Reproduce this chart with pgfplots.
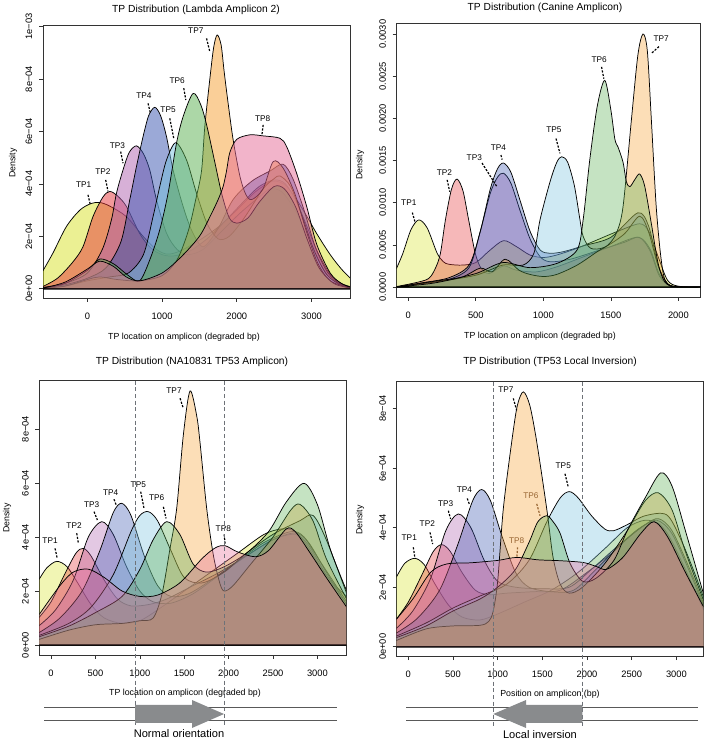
\documentclass[border=0pt]{standalone}
\usepackage{fontspec}
\setmainfont{Liberation Sans}
\usepackage{pgfplots}
\pgfplotsset{compat=1.18}

\definecolor{tp1}{RGB}{215,225,40}
\definecolor{tp2}{RGB}{229,52,55}
\definecolor{tp3}{RGB}{175,98,175}
\definecolor{tp4}{RGB}{55,84,175}
\definecolor{tp5}{RGB}{118,192,221}
\definecolor{tp6}{RGB}{90,175,80}
\definecolor{tp7}{RGB}{245,160,50}
\definecolor{tp8}{RGB}{230,105,150}
\definecolor{arrowgray}{HTML}{898B8D}
\definecolor{dashgray}{HTML}{6E7278}

\pgfplotsset{
  rbox/.style={
    scale only axis, anchor=south west,
    axis line style={black!80, line width=0.6pt},
    tick align=outside, tick pos=left, major tick length=3pt,
    tick style={black!80, line width=0.5pt},
    ticklabel style={font=\fontsize{7}{8}\selectfont},
    xticklabel style={yshift=-4.5pt},
    yticklabel style={rotate=90, anchor=south, yshift=1.5pt},
    clip mode=individual, no markers,
  },
  tp/.style={smooth, fill=#1, draw=black, line width=0.55pt},
}
\tikzset{
  lbl/.style={font=\fontsize{6.2}{7}\selectfont, inner sep=0.5pt},
  ptr/.style={dash pattern=on 1.6pt off 1.1pt, line width=0.9pt},
  vdash/.style={dashgray, dash pattern=on 3pt off 2pt, line width=0.7pt},
}

\begin{document}
\begin{tikzpicture}
\path[use as bounding box] (0,0) rectangle (528.75pt,557.25pt);

% ---------------- Lambda Amplicon 2
\begin{axis}[rbox, at={(32.25pt,333.75pt)}, width=230.25pt, height=204.75pt,
  xmin=-594, xmax=3515, ymin=-0.354, ymax=10.06,
  xtick={0,1000,2000,3000}, xticklabels={0,1000,2000,3000},
  ytick={0,2,4,6,8,10}, yticklabels={0e+00,2e−04,4e−04,6e−04,8e−04,1e−03},
  every axis plot/.append style={fill opacity=0.5}]
\addplot[tp=tp1] coordinates {(-600,0.66) (-461,1.36) (-281,2.37) (-100,3.0) (50,3.25) (165,3.29) (300,3.15) (522,2.75) (745,2.0) (900,1.55) (1013,1.36) (1100,1.32) (1250,1.45) (1500,1.85) (1750,2.35) (2000,3.0) (2250,3.7) (2480,4.1) (2650,3.95) (2800,3.4) (2950,2.7) (3070,2.1) (3250,1.3) (3400,0.75) (3520,0.4)} \closedcycle;
\addplot[tp=tp2] coordinates {(-600,0.08) (-400,0.4) (-200,1.0) (-59,1.6) (75,2.75) (209,3.5) (299,3.71) (400,3.55) (522,3.14) (701,2.1) (850,1.55) (1000,1.3) (1150,1.25) (1350,1.4) (1600,1.9) (1850,2.6) (2100,3.35) (2300,3.9) (2500,4.15) (2650,4.0) (2800,3.3) (2950,2.3) (3080,1.4) (3250,0.55) (3400,0.2) (3520,0.08)} \closedcycle;
\addplot[tp=tp3] coordinates {(-600,0.05) (-300,0.2) (0,0.6) (200,1.5) (322,2.63) (389,3.64) (477,4.53) (560,5.2) (657,5.45) (750,5.15) (835,4.53) (925,3.39) (1059,2.12) (1200,1.5) (1350,1.3) (1550,1.5) (1800,2.2) (2050,2.9) (2300,3.5) (2440,3.8) (2600,3.7) (2780,3.0) (2930,2.1) (3070,1.2) (3250,0.4) (3520,0.05)} \closedcycle;
\addplot[tp=tp4] coordinates {(-600,0.03) (-300,0.15) (0,0.4) (250,0.8) (450,1.8) (567,3.39) (657,4.66) (745,5.8) (820,6.6) (902,6.92) (980,6.6) (1059,5.8) (1147,4.53) (1281,3.14) (1400,2.2) (1550,1.6) (1750,2.3) (1950,3.4) (2200,4.1) (2450,4.5) (2620,4.75) (2750,4.2) (2900,3.0) (3050,1.6) (3220,0.6) (3400,0.15) (3520,0.05)} \closedcycle;
\addplot[tp=tp5] coordinates {(-600,0.02) (-300,0.1) (0,0.3) (300,0.45) (550,0.6) (750,1.3) (879,2.75) (969,3.9) (1059,4.91) (1183,5.57) (1327,4.91) (1461,3.64) (1600,2.5) (1750,1.9) (1900,2.0) (2100,2.7) (2350,3.8) (2500,4.2) (2580,4.3) (2720,3.9) (2870,2.8) (3030,1.5) (3200,0.55) (3400,0.12) (3520,0.03)} \closedcycle;
\addplot[tp=tp7] coordinates {(-600,0.01) (-300,0.1) (0,0.35) (165,0.45) (400,0.35) (700,0.3) (1000,0.5) (1200,1.1) (1350,2.2) (1450,3.4) (1528,4.5) (1572,6.2) (1639,8.0) (1690,9.2) (1737,9.68) (1790,9.3) (1830,8.3) (1884,7.07) (1951,5.68) (2041,4.3) (2120,3.6) (2200,3.4) (2350,3.8) (2487,4.85) (2620,4.6) (2780,3.6) (2930,2.2) (3080,1.0) (3250,0.3) (3520,0.04)} \closedcycle;
\addplot[tp=tp6] coordinates {(-600,0.02) (-300,0.2) (0,0.7) (165,1.13) (350,0.95) (550,0.5) (700,0.3) (835,1.1) (969,2.25) (1080,3.64) (1193,5.55) (1281,6.56) (1415,7.45) (1520,7.0) (1600,6.2) (1700,4.9) (1800,3.6) (1900,2.7) (2000,2.5) (2150,2.7) (2300,3.3) (2500,3.9) (2640,3.8) (2790,3.1) (2940,1.9) (3100,0.8) (3300,0.2) (3520,0.03)} \closedcycle;
\addplot[tp=tp8] coordinates {(-600,0.02) (-300,0.25) (0,0.75) (165,1.05) (350,0.85) (520,0.45) (700,0.3) (1000,0.6) (1250,1.2) (1500,2.0) (1650,2.8) (1750,3.4) (1817,3.9) (1863,4.5) (1907,5.2) (2000,5.7) (2175,5.87) (2353,5.83) (2577,5.74) (2667,5.42) (2800,4.41) (2935,3.14) (3069,1.7) (3250,0.6) (3400,0.2) (3520,0.06)} \closedcycle;
\node[lbl] at (axis cs:-50,3.96) {TP1}; \draw[ptr] (axis cs:8,3.58) -- (axis cs:40,3.2);
\node[lbl] at (axis cs:209,4.45) {TP2}; \draw[ptr] (axis cs:245,4.15) -- (axis cs:276,3.71);
\node[lbl] at (axis cs:402,5.46) {TP3}; \draw[ptr] (axis cs:446,5.23) -- (axis cs:477,4.79);
\node[lbl] at (axis cs:758,7.35) {TP4}; \draw[ptr] (axis cs:812,7.07) -- (axis cs:844,6.69);
\node[lbl] at (axis cs:1080,6.82) {TP5}; \draw[ptr] (axis cs:1103,6.5) -- (axis cs:1156,5.74);
\node[lbl] at (axis cs:1201,7.94) {TP6}; \draw[ptr] (axis cs:1290,7.65) -- (axis cs:1317,7.2);
\node[lbl] at (axis cs:1451,9.83) {TP7}; \draw[ptr] (axis cs:1595,9.55) -- (axis cs:1639,9.04);
\node[lbl] at (axis cs:2345,6.48) {TP8}; \draw[ptr] (axis cs:2353,6.25) -- (axis cs:2336,5.87);
\end{axis}

% ---------------- Canine Amplicon
\begin{axis}[rbox, at={(297.5pt,334.5pt)}, width=228pt, height=205.5pt,
  xmin=-86, xmax=2165, ymin=-1.18, ymax=31.3,
  xtick={0,500,1000,1500,2000}, xticklabels={0,500,1000,1500,2000},
  ytick={0,5,10,15,20,25,30}, yticklabels={0.0000,0.0005,0.0010,0.0015,0.0020,0.0025,0.0030},
  every axis plot/.append style={fill opacity=0.35}]
\addplot[tp=tp1] coordinates {(-90,2.1) (-40,4.0) (20,6.8) (78,7.96) (140,7.0) (214,4.0) (260,3.0) (300,2.7) (400,2.6) (500,2.9) (600,4.3) (705,5.5) (800,4.8) (900,3.8) (1000,3.5) (1100,3.8) (1250,4.6) (1400,5.6) (1550,6.6) (1713,7.5) (1780,6.6) (1850,3.6) (1920,0.8) (2000,0.1) (2170,0)} \closedcycle;
\addplot[tp=tp2] coordinates {(-90,0.05) (50,0.5) (150,1.0) (200,2.2) (238,4.0) (275,7.96) (320,11.6) (361,12.8) (405,11.4) (447,7.96) (496,4.0) (540,2.2) (600,1.6) (705,2.5) (800,2.0) (950,1.8) (1100,2.4) (1300,3.6) (1500,4.8) (1700,5.9) (1790,4.5) (1860,1.5) (1950,0.1) (2170,0)} \closedcycle;
\addplot[tp=tp3] coordinates {(-90,0) (100,0.4) (300,0.9) (450,2.3) (530,6.4) (607,11.1) (660,13.0) (705,13.5) (760,12.3) (829,9.0) (902,5.7) (976,3.6) (1050,3.0) (1200,3.3) (1400,4.3) (1600,5.3) (1710,5.9) (1790,4.3) (1860,1.3) (1950,0.1) (2170,0)} \closedcycle;
\addplot[tp=tp4] coordinates {(-90,0) (100,0.5) (300,1.1) (450,2.6) (533,6.6) (607,11.6) (660,14.0) (705,14.7) (760,13.6) (829,10.2) (902,6.6) (976,4.4) (1050,4.0) (1150,4.2) (1300,4.9) (1500,5.9) (1700,8.8) (1780,7.2) (1850,2.6) (1920,0.4) (2000,0) (2170,0)} \closedcycle;
\addplot[tp=tp5] coordinates {(-90,0) (200,0.6) (500,1.4) (700,2.6) (850,2.6) (930,4.0) (976,8.0) (1050,12.5) (1100,14.8) (1136,15.45) (1180,14.8) (1230,12.0) (1271,8.0) (1295,6.0) (1350,4.6) (1450,4.7) (1600,6.3) (1713,8.4) (1780,6.5) (1850,2.5) (1920,0.4) (2000,0) (2170,0)} \closedcycle;
\addplot[tp=tp7] coordinates {(-90,0) (200,0.7) (400,1.2) (533,2.25) (620,1.8) (718,3.3) (820,2.0) (900,1.5) (1000,1.25) (1100,1.5) (1250,2.6) (1400,4.2) (1480,5.0) (1541,6.4) (1590,9.5) (1652,19.8) (1700,27.5) (1738,30.0) (1770,28.0) (1800,19.8) (1836,9.5) (1873,3.2) (1910,0.5) (2000,0.05) (2170,0)} \closedcycle;
\addplot[tp=tp6] coordinates {(-90,0) (200,0.5) (500,1.6) (700,2.9) (900,2.3) (1100,2.8) (1250,4.4) (1295,8.0) (1344,15.1) (1400,21.5) (1455,24.5) (1500,21.0) (1530,17.5) (1553,16.6) (1590,14.8) (1615,12.5) (1641,11.9) (1680,12.8) (1713,13.4) (1750,12.0) (1800,7.5) (1850,2.8) (1900,0.6) (1980,0) (2170,0)} \closedcycle;
\node[lbl] at (axis cs:4,10.0) {TP1}; \draw[ptr] (axis cs:30,8.83) -- (axis cs:49,7.76);
\node[lbl] at (axis cs:268,13.6) {TP2}; \draw[ptr] (axis cs:288,12.7) -- (axis cs:307,11.3);
\node[lbl] at (axis cs:489,15.3) {TP3}; \draw[ptr] (axis cs:546,14.7) -- (axis cs:656,11.9);
\node[lbl] at (axis cs:668,16.5) {TP4}; \draw[ptr] (axis cs:686,15.65) -- (axis cs:695,15.1);
\node[lbl] at (axis cs:1079,18.6) {TP5}; \draw[ptr] (axis cs:1094,17.6) -- (axis cs:1123,15.85);
\node[lbl] at (axis cs:1413,27.0) {TP6}; \draw[ptr] (axis cs:1431,26.1) -- (axis cs:1448,24.7);
\node[lbl] at (axis cs:1873,29.4) {TP7}; \draw[ptr] (axis cs:1856,28.5) -- (axis cs:1800,27.7);
\end{axis}

% ---------------- NA10831 TP53 Amplicon
\begin{axis}[rbox, at={(29.5pt,66pt)}, width=230pt, height=205.7pt,
  xmin=-132, xmax=3322, ymin=-0.37, ymax=9.79,
  xtick={0,500,1000,1500,2000,2500,3000}, xticklabels={0,500,1000,1500,2000,2500,3000},
  ytick={0,2,4,6,8}, yticklabels={0e+00,2e−04,4e−04,6e−04,8e−04},
  every axis plot/.append style={fill opacity=0.35}]
\addplot[tp=tp1] coordinates {(-140,2.4) (-50,2.85) (64,3.1) (180,2.9) (300,2.3) (450,1.5) (600,1.0) (800,0.8) (1000,0.9) (1200,1.3) (1500,2.0) (1800,2.7) (2100,3.4) (2400,4.1) (2600,4.3) (2750,4.2) (2900,3.6) (3050,2.8) (3200,2.2) (3330,1.8)} \closedcycle;
\addplot[tp=tp2] coordinates {(-140,1.0) (0,1.6) (150,2.6) (280,3.4) (364,3.58) (450,3.3) (600,2.4) (750,1.7) (900,1.45) (1100,1.5) (1300,1.7) (1600,2.2) (1900,2.7) (2200,3.3) (2500,3.9) (2750,4.1) (2900,3.7) (3100,2.6) (3330,1.5)} \closedcycle;
\addplot[tp=tp3] coordinates {(-140,0.7) (50,1.3) (250,2.4) (420,4.0) (571,4.57) (700,4.1) (850,2.9) (1000,2.0) (1150,1.6) (1350,1.55) (1600,1.9) (1900,2.6) (2200,3.3) (2500,3.9) (2750,4.15) (2900,3.8) (3100,2.7) (3330,1.5)} \closedcycle;
\addplot[tp=tp4] coordinates {(-140,0.45) (100,1.0) (350,2.0) (550,3.5) (700,4.9) (796,5.25) (900,4.8) (1050,3.3) (1200,2.2) (1350,1.8) (1550,1.9) (1800,2.4) (2100,3.1) (2400,3.8) (2700,4.2) (2850,4.0) (3050,3.0) (3330,1.6)} \closedcycle;
\addplot[tp=tp5] coordinates {(-140,0.35) (200,0.8) (450,1.4) (700,2.6) (900,4.2) (1000,4.8) (1096,4.94) (1200,4.6) (1350,3.5) (1500,2.5) (1700,2.3) (1950,2.7) (2200,3.4) (2500,4.1) (2800,4.6) (2950,4.8) (3100,3.9) (3330,1.9)} \closedcycle;
\addplot[tp=tp7] coordinates {(-140,0.2) (200,0.55) (500,0.75) (800,0.8) (1000,0.9) (1150,1.0) (1250,1.9) (1340,3.58) (1415,5.06) (1490,7.78) (1565,9.41) (1640,8.5) (1677,7.53) (1753,5.06) (1828,3.33) (1900,2.3) (1950,2.0) (2050,2.2) (2250,3.0) (2500,4.0) (2700,5.0) (2804,5.21) (2950,4.6) (3100,3.2) (3330,1.7)} \closedcycle;
\addplot[tp=tp6] coordinates {(-140,0.3) (200,0.7) (500,1.2) (800,1.8) (1000,2.8) (1150,3.9) (1302,4.57) (1450,4.1) (1600,3.0) (1750,2.7) (1950,2.9) (2200,3.4) (2450,4.2) (2650,5.3) (2849,5.99) (3000,5.2) (3150,3.5) (3330,2.0)} \closedcycle;
\addplot[tp=tp8] coordinates {(-140,1.1) (100,2.2) (250,2.7) (420,2.81) (600,2.5) (800,2.0) (1000,1.8) (1200,1.85) (1450,2.3) (1700,3.2) (1850,3.6) (1959,3.68) (2100,3.45) (2300,3.27) (2450,3.5) (2650,4.3) (2750,4.2) (2900,3.5) (3100,2.5) (3330,1.4)} \closedcycle;
\node[lbl] at (axis cs:-11,3.86) {TP1}; \draw[ptr] (axis cs:45,3.58) -- (axis cs:71,3.19);
\node[lbl] at (axis cs:259,4.44) {TP2}; \draw[ptr] (axis cs:289,4.14) -- (axis cs:308,3.77);
\node[lbl] at (axis cs:458,5.19) {TP3}; \draw[ptr] (axis cs:484,4.94) -- (axis cs:522,4.63);
\node[lbl] at (axis cs:672,5.65) {TP4}; \draw[ptr] (axis cs:709,5.4) -- (axis cs:732,5.2);
\node[lbl] at (axis cs:983,5.95) {TP5}; \draw[ptr] (axis cs:1010,5.68) -- (axis cs:1047,5.06);
\node[lbl] at (axis cs:1190,5.47) {TP6}; \draw[ptr] (axis cs:1265,5.12) -- (axis cs:1295,4.69);
\node[lbl] at (axis cs:1385,9.44) {TP7}; \draw[ptr] (axis cs:1453,9.14) -- (axis cs:1490,8.77);
\node[lbl] at (axis cs:1940,4.3) {TP8}; \draw[ptr] (axis cs:1950,4.1) -- (axis cs:1960,3.75);
\draw[vdash] (axis cs:948,9.79) -- (axis cs:948,-3.04);
\draw[vdash] (axis cs:1950,9.79) -- (axis cs:1950,-3.04);
\end{axis}

% ---------------- TP53 Local Inversion
\begin{axis}[rbox, at={(297.5pt,65.25pt)}, width=230pt, height=205.7pt,
  xmin=-130, xmax=3301, ymin=-0.31, ymax=8.9,
  xtick={0,500,1000,1500,2000,2500,3000}, xticklabels={0,500,1000,1500,2000,2500,3000},
  ytick={0,2,4,6,8}, yticklabels={0e+00,2e−04,4e−04,6e−04,8e−04},
  every axis plot/.append style={fill opacity=0.35}]
\addplot[tp=tp1] coordinates {(-140,2.3) (-40,2.8) (75,2.97) (180,2.75) (300,2.1) (450,1.4) (600,1.0) (800,0.9) (1000,1.1) (1300,1.5) (1600,1.9) (1900,2.5) (2200,3.3) (2450,4.0) (2650,4.25) (2800,4.1) (2950,3.4) (3100,2.5) (3310,1.4)} \closedcycle;
\addplot[tp=tp2] coordinates {(-140,0.9) (0,1.5) (150,2.4) (280,3.2) (374,3.43) (470,3.2) (600,2.5) (750,1.9) (900,1.75) (1100,1.8) (1400,1.85) (1700,1.9) (2000,2.5) (2300,3.2) (2550,3.9) (2750,4.2) (2900,3.8) (3100,2.6) (3310,1.2)} \closedcycle;
\addplot[tp=tp3] coordinates {(-140,0.6) (50,1.2) (250,2.3) (420,3.9) (560,4.46) (700,4.0) (850,2.9) (1000,2.2) (1200,2.0) (1500,1.95) (1800,2.0) (2050,2.6) (2350,3.4) (2600,4.0) (2780,4.25) (2950,3.8) (3150,2.5) (3310,1.3)} \closedcycle;
\addplot[tp=tp4] coordinates {(-140,0.45) (100,0.95) (350,1.9) (550,3.4) (720,4.9) (821,5.28) (920,4.9) (1050,3.7) (1200,2.5) (1350,2.0) (1600,1.85) (1850,1.9) (2100,2.6) (2400,3.5) (2650,4.1) (2800,4.3) (2950,3.9) (3150,2.6) (3310,1.4)} \closedcycle;
\addplot[tp=tp5] coordinates {(-140,0.35) (200,0.8) (500,1.3) (800,1.7) (1100,2.1) (1350,2.9) (1550,4.2) (1700,5.0) (1802,5.21) (1900,5.0) (2050,4.4) (2200,3.95) (2300,3.9) (2450,4.1) (2650,4.4) (2891,4.43) (3050,3.6) (3200,2.5) (3310,1.6)} \closedcycle;
\addplot[tp=tp7] coordinates {(-140,0.2) (200,0.6) (500,0.7) (800,0.72) (900,0.85) (950,1.2) (1000,2.2) (1063,4.63) (1157,6.88) (1220,8.1) (1287,8.56) (1360,8.1) (1437,6.88) (1549,4.63) (1620,3.0) (1700,2.1) (1800,1.8) (1950,2.0) (2200,2.8) (2450,3.9) (2650,4.9) (2798,5.17) (2950,4.6) (3100,3.2) (3310,1.5)} \closedcycle;
\addplot[tp=tp6] coordinates {(-140,0.3) (200,0.7) (500,1.2) (800,1.6) (1000,2.0) (1200,2.6) (1350,3.5) (1450,4.2) (1550,4.4) (1620,4.2) (1700,3.8) (1810,2.8) (1950,2.2) (2100,2.3) (2300,2.9) (2450,3.9) (2650,5.0) (2824,5.84) (2950,5.4) (3100,3.9) (3310,1.7)} \closedcycle;
\addplot[tp=tp8] coordinates {(-140,0.9) (50,1.6) (250,2.5) (430,2.78) (700,2.82) (1000,2.9) (1213,3.0) (1450,2.92) (1698,2.89) (1958,2.83) (2100,2.7) (2220,2.6) (2400,3.0) (2600,3.8) (2750,4.2) (2900,3.7) (3100,2.5) (3310,1.3)} \closedcycle;
\node[lbl] at (axis cs:11,3.65) {TP1}; \draw[ptr] (axis cs:56,3.34) -- (axis cs:75,2.97);
\node[lbl] at (axis cs:213,4.12) {TP2}; \draw[ptr] (axis cs:243,3.84) -- (axis cs:273,3.45);
\node[lbl] at (axis cs:418,4.82) {TP3}; \draw[ptr] (axis cs:448,4.57) -- (axis cs:474,4.29);
\node[lbl] at (axis cs:627,5.27) {TP4}; \draw[ptr] (axis cs:660,4.98) -- (axis cs:683,4.79);
\node[lbl] at (axis cs:1093,8.62) {TP7}; \draw[ptr] (axis cs:1175,8.34) -- (axis cs:1213,7.94);
\node[lbl, text=brown!80!black] at (axis cs:1373,5.08) {TP6}; \draw[ptr, brown!80!black] (axis cs:1437,4.8) -- (axis cs:1474,4.4);
\node[lbl, text=brown!80!black] at (axis cs:1213,3.56) {TP8}; \draw[ptr, brown!80!black] (axis cs:1222,3.34) -- (axis cs:1215,3.0);
\node[lbl] at (axis cs:1734,6.09) {TP5}; \draw[ptr] (axis cs:1753,5.81) -- (axis cs:1790,5.36);
\draw[vdash] (axis cs:951,8.9) -- (axis cs:951,-2.74);
\draw[vdash] (axis cs:1950,8.9) -- (axis cs:1950,-2.74);
\end{axis}

% ---------------- titles, axis names, orientation sketches (pixel grid of the reference)
\begin{scope}[shift={(0pt,557.25pt)}, x=0.75pt, y=-0.75pt]
\path[font=\fontsize{7.7}{9}\selectfont]
  (196,10) node {TP Distribution (Lambda Amplicon 2)}
  (545,8) node {TP Distribution (Canine Amplicon)}
  (192,362) node {TP Distribution (NA10831 TP53 Amplicon)}
  (550,362) node {TP Distribution (TP53 Local Inversion)};
\path[font=\fontsize{6.6}{8}\selectfont]
  (184,337) node {TP location on amplicon (degraded bp)}
  (540,336) node {TP location on amplicon (degraded bp)}
  (185,693) node {TP location on amplicon (degraded bp)}
  (550,694) node {Position on amplicon (bp)}
  (13,163) node[rotate=90] {Density}
  (360,165) node[rotate=90] {Density}
  (7,518) node[rotate=90] {Density}
  (360,520) node[rotate=90] {Density};
% normal orientation
\draw[black!65, line width=0.7pt] (44,707.3) -- (336.7,707.3) (44,720.7) -- (336.7,720.7);
\fill[arrowgray] (135,705) -- (192,705) -- (192,700) -- (224,714) -- (192,728) -- (192,723) -- (135,723) -- cycle;
\node[font=\fontsize{8.3}{10}\selectfont] at (179,734) {Normal orientation};
% local inversion
\draw[black!65, line width=0.7pt] (406,707.3) -- (698,707.3) (406,720.7) -- (698,720.7);
\fill[arrowgray] (582.3,705) -- (526,705) -- (526,700) -- (493.3,714) -- (526,728) -- (526,723) -- (582.3,723) -- cycle;
\node[font=\fontsize{8.3}{10}\selectfont] at (540,734.5) {Local inversion};
\end{scope}
\end{tikzpicture}
\end{document}
